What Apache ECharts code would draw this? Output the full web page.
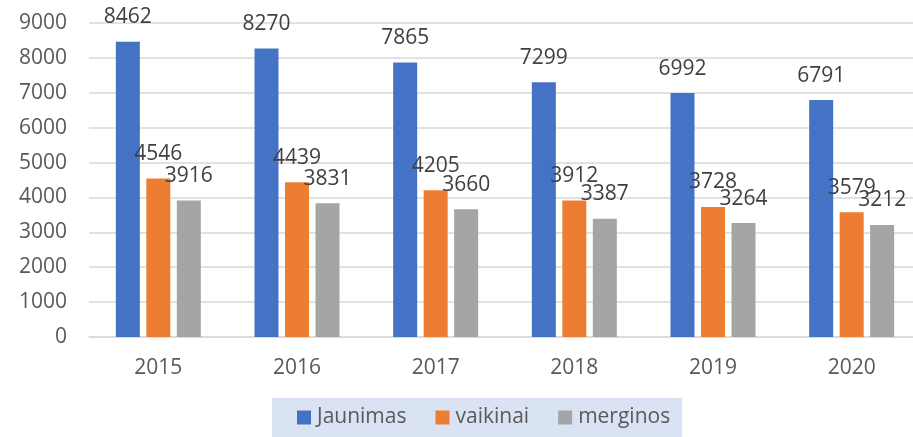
<!DOCTYPE html>
<html>
<head>
<meta charset="utf-8">
<script src="https://cdn.jsdelivr.net/npm/echarts@6/dist/echarts.min.js"></script>
<style>html,body{margin:0;padding:0;background:#fff}#c{width:913px;height:437px}</style>
</head>
<body>
<div id="c"></div>
<script>
const categories = ['2015', '2016', '2017', '2018', '2019', '2020'];
const jaunimas = [8462, 8270, 7865, 7299, 6992, 6791];
const vaikinai = [4546, 4439, 4205, 3912, 3728, 3579];
const merginos = [3916, 3831, 3660, 3387, 3264, 3212];
const seriesNames = ['Jaunimas', 'vaikinai', 'merginos'];
const colors = ['#4472c4', '#ed7d31', '#a5a5a5'];

const FONT = 'Open Sans';
const FS = 21;
const chart = echarts.init(document.getElementById('c'));
const mk = (name, data, color) => ({
  name, type: 'bar', data,
  barWidth: 24, barGap: '27%', barCategoryGap: '39%',
  itemStyle: { color },
  label: { show: true, position: 'top', distance: 14, color: '#404040', fontSize: FS, fontFamily: FONT },
  emphasis: { disabled: true }
});
chart.setOption({
  animation: false,
  textStyle: { fontFamily: FONT },
  grid: { left: 89, width: 832, top: 23, bottom: 100, containLabel: false, outerBoundsMode: 'none' },
  legend: {
    data: seriesNames, left: 272, top: 398,
    padding: [9, 12, 9, 25], itemGap: 29, itemWidth: 14, itemHeight: 14,
    icon: 'rect', backgroundColor: '#dae3f3',
    textStyle: { color: '#595959', fontSize: FS, fontFamily: FONT, padding: [0, 0, 0, 1] }
  },
  xAxis: {
    type: 'category', data: categories,
    axisLine: { lineStyle: { color: '#d9d9d9', width: 1.5 } },
    axisTick: { show: false },
    axisLabel: { color: '#595959', fontSize: FS, fontFamily: FONT, margin: 21 }
  },
  yAxis: {
    type: 'value', min: 0, max: 9000, interval: 1000,
    axisLine: { show: false }, axisTick: { show: false },
    splitLine: { lineStyle: { color: '#d9d9d9', width: 1.5 } },
    axisLabel: { color: '#595959', fontSize: FS, fontFamily: FONT, margin: 22, formatter: v => String(v) }
  },
  series: [mk(seriesNames[0], jaunimas, colors[0]), mk(seriesNames[1], vaikinai, colors[1]), mk(seriesNames[2], merginos, colors[2])]
});
</script>
</body>
</html>
